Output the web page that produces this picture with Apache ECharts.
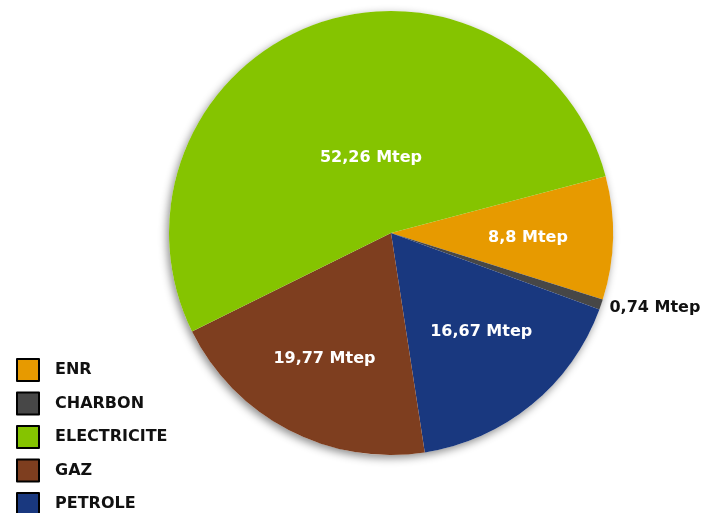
<!DOCTYPE html>
<html><head><meta charset="utf-8">
<script src="https://cdn.jsdelivr.net/npm/echarts@6/dist/echarts.min.js"></script>
<style>html,body{margin:0;padding:0;background:#fff}#c{width:704px;height:513px}</style>
</head><body><div id="c"></div>
<script>
// Data (clockwise order in the pie)
const categories = ['ENR', 'CHARBON', 'PETROLE', 'GAZ', 'ELECTRICITE'];
const values = [8.8, 0.74, 16.67, 19.77, 52.26];
const labels = ['8,8 Mtep', '0,74 Mtep', '16,67 Mtep', '19,77 Mtep', '52,26 Mtep'];
const legendOrder = ['ENR', 'CHARBON', 'ELECTRICITE', 'GAZ', 'PETROLE'];
const colors = {ENR:'#E79A00', CHARBON:'#474747', PETROLE:'#19387F', GAZ:'#7E3E1F', ELECTRICITE:'#85C400'};
// label offsets from default inside position
const labelShift = [[23,2],[156,38],[18,11],[-14,25],[20,32]];

const chart = echarts.init(document.getElementById('c'));
chart.setOption({
  animation:false,
  legend:{
    data: legendOrder,
    orient:'vertical', left:16, top:358, height:200, padding:0,
    itemWidth:22, itemHeight:22, itemGap:9.5,
    icon:'rect',
    itemStyle:{borderColor:'#000', borderWidth:2},
    textStyle:{fontFamily:'DejaVu Sans', fontWeight:'bold', fontSize:16, color:'#111', padding:[0,0,0,11]},
    selectedMode:false
  },
  series:[
    {
      type:'pie', silent:true, z:1,
      center:[391,233], radius:222,
      data:[{value:1, name:'_shadow'}],
      itemStyle:{color:'#fff', shadowBlur:8, shadowColor:'rgba(0,0,0,0.45)', shadowOffsetX:-2, shadowOffsetY:3},
      label:{show:false}, labelLine:{show:false}
    },
    {
      type:'pie', z:2,
      center:[391,233], radius:222,
      startAngle:14.8, clockwise:true,
      data: categories.map((c,i)=>({
        name:c, value:values[i],
        itemStyle:{color:colors[c]},
        label:{color: c==='CHARBON' ? '#111' : '#fff'}
      })),
      label:{
        show:true, position:'inside',
        formatter:(p)=>labels[p.dataIndex],
        fontFamily:'DejaVu Sans', fontWeight:'bold', fontSize:16
      },
      labelLine:{show:false},
      labelLayout:(p)=>({dx:labelShift[p.dataIndex][0], dy:labelShift[p.dataIndex][1]})
    }
  ]
});
</script></body></html>
